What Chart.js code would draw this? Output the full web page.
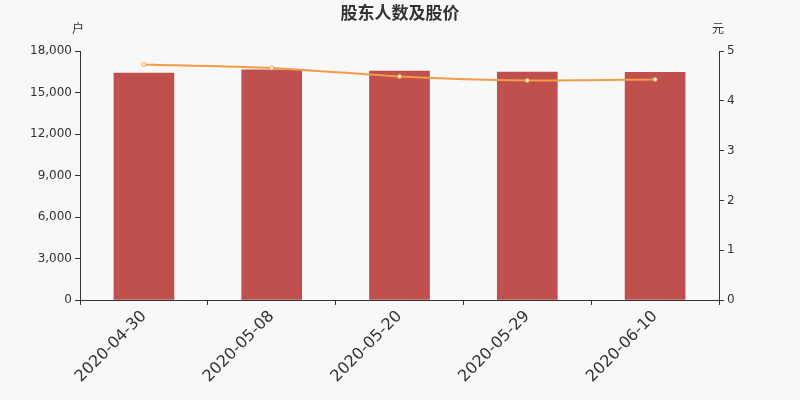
<!DOCTYPE html>
<html>
<head>
<meta charset="utf-8">
<script src="https://cdn.jsdelivr.net/npm/chart.js@4/dist/chart.umd.min.js"></script>
<style>
  html, body { margin: 0; padding: 0; background: #f8f8f8; }
  #wrap { width: 800px; height: 400px; }
</style>
</head>
<body>
<div id="wrap"><canvas id="chart" width="800" height="400"></canvas></div>
<script>
// 股东人数及股价
const dates = ['2020-04-30', '2020-05-08', '2020-05-20', '2020-05-29', '2020-06-10'];
const holders = [16410, 16630, 16550, 16480, 16460];
const prices = [4.73, 4.66, 4.49, 4.41, 4.43];
const holderTicks = [0, 3000, 6000, 9000, 12000, 15000, 18000];
const priceTicks = [0, 1, 2, 3, 4, 5];

const axisColor = '#333';

// title + unit labels
const textPlugin = {
    id: 'texts',
    afterDraw(chart) {
        const c = chart.ctx;
        const a = chart.chartArea;
        c.save();
        c.fillStyle = '#333';
        c.textAlign = 'center';
        c.textBaseline = 'middle';
        c.font = 'bold 17px "Noto Sans CJK SC"';
        c.fillText('股东人数及股价', 400, 13);
        c.font = '12px "Noto Sans CJK SC"';
        c.fillText('户', a.left - 2, 28);
        c.fillText('元', a.right - 1, 28);
        c.restore();
    }
};

new Chart(document.getElementById('chart').getContext('2d'), {
    data: {
        labels: dates,
        datasets: [{
            type: 'line',
            label: '股价',
            data: prices,
            yAxisID: 'y1',
            borderColor: '#f59a45',
            borderWidth: 2,
            pointRadius: 2,
            pointBorderWidth: 1,
            pointBackgroundColor: '#fff',
            pointBorderColor: '#f59a45',
            tension: 0.2,
            order: 0
        }, {
            type: 'bar',
            label: '股东人数',
            data: holders,
            yAxisID: 'y',
            backgroundColor: '#c0504d',
            barThickness: 60,
            order: 1
        }]
    },
    options: {
        responsive: false,
        animation: false,
        layout: { padding: { top: 51, left: 0, right: 1, bottom: 0 } },
        plugins: {
            legend: { display: false },
            tooltip: { enabled: false }
        },
        scales: {
            x: {
                afterFit(s) { s.height = 100; },
                grid: {
                    offset: true,
                    drawOnChartArea: false,
                    color: axisColor,
                    tickLength: 5,
                    tickColor: axisColor
                },
                border: { color: axisColor, width: 1 },
                ticks: {
                    color: '#333',
                    font: { family: 'DejaVu Sans', size: 16 },
                    minRotation: 45,
                    maxRotation: 45,
                    padding: 2
                }
            },
            y: {
                position: 'left',
                min: 0,
                max: 18000,
                afterFit(s) { s.width = 80; },
                afterBuildTicks(s) { s.ticks = holderTicks.map(v => ({ value: v })); },
                grid: { drawOnChartArea: false, tickLength: 5, tickColor: axisColor },
                border: { color: axisColor, width: 1 },
                ticks: {
                    color: '#333',
                    font: { family: 'DejaVu Sans', size: 12 },
                    padding: 3,
                    callback: v => v.toLocaleString('en-US')
                }
            },
            y1: {
                position: 'right',
                min: 0,
                max: 5,
                afterFit(s) { s.width = 80; },
                afterBuildTicks(s) { s.ticks = priceTicks.map(v => ({ value: v })); },
                grid: { drawOnChartArea: false, tickLength: 5, tickColor: axisColor },
                border: { color: axisColor, width: 1 },
                ticks: {
                    color: '#333',
                    font: { family: 'DejaVu Sans', size: 12 },
                    padding: 3
                }
            }
        }
    },
    plugins: [textPlugin]
});
</script>
</body>
</html>
